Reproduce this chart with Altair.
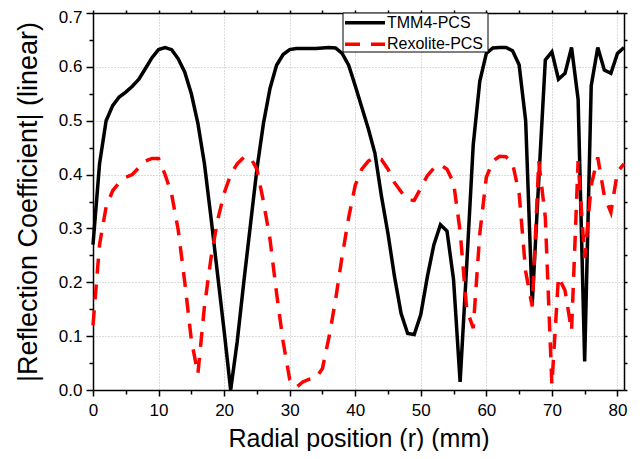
import altair as alt
import pandas as pd

# ---------------- data ----------------
R_MM = list(range(0, 82))

TMM4 = [0.27, 0.42, 0.50, 0.528, 0.544, 0.553, 0.564, 0.577, 0.597, 0.617,
        0.632, 0.636, 0.632, 0.615, 0.59, 0.55, 0.495, 0.42, 0.32, 0.215,
        0.11, 0.0, 0.09, 0.20, 0.305, 0.41, 0.495, 0.56, 0.603, 0.623,
        0.632, 0.634, 0.634, 0.634, 0.634, 0.635, 0.636, 0.635, 0.625, 0.603,
        0.565, 0.525, 0.485, 0.44, 0.36, 0.29, 0.21, 0.142, 0.105, 0.103,
        0.14, 0.21, 0.27, 0.307, 0.295, 0.205, 0.015, 0.23, 0.455, 0.573,
        0.625, 0.635, 0.636, 0.636, 0.63, 0.604, 0.50, 0.16, 0.39, 0.613,
        0.628, 0.577, 0.588, 0.636, 0.54, 0.053, 0.565, 0.636, 0.594, 0.588,
        0.625, 0.636]

REXOLITE = [0.12, 0.27, 0.34, 0.37, 0.385, 0.395, 0.40, 0.413, 0.425, 0.43,
            0.43, 0.40, 0.363, 0.297, 0.20, 0.093, 0.03, 0.155, 0.245, 0.315,
            0.365, 0.40, 0.42, 0.432, 0.432, 0.41, 0.35, 0.28, 0.18, 0.09,
            0.02, 0.005, 0.015, 0.02, 0.022, 0.04, 0.098, 0.167, 0.248, 0.32,
            0.38, 0.41, 0.425, 0.432, 0.428, 0.41, 0.385, 0.368, 0.353, 0.352,
            0.375, 0.398, 0.412, 0.418, 0.41, 0.385, 0.295, 0.15, 0.115, 0.29,
            0.395, 0.425, 0.434, 0.433, 0.421, 0.365, 0.22, 0.155, 0.425, 0.32,
            0.01, 0.21, 0.185, 0.11, 0.425, 0.245, 0.38, 0.432, 0.36, 0.33,
            0.405, 0.42]

SERIES = ["TMM4-PCS", "Rexolite-PCS"]
X_TICKS = list(range(0, 81, 5))
Y_TICKS = [round(i * 0.05, 2) for i in range(15)]
X_LABEL = "Radial position (r) (mm)"
Y_LABEL = "|Reflection Coefficient| (linear)"

df = pd.DataFrame({"r": R_MM, "tmm4": TMM4, "rex": REXOLITE})
one = pd.DataFrame({"k": [0]})

FONT = "Liberation Sans"
x_scale = alt.Scale(domain=[0, 81], nice=False, zero=False)
y_scale = alt.Scale(domain=[0, 0.7], nice=False, zero=False)

MAJ_X = "datum.value % 10 === 0"
MAJ_Y = "abs(datum.value * 10 - round(datum.value * 10)) < 0.001"

x_axis = alt.Axis(
    values=X_TICKS, title=X_LABEL, format="d",
    labelExpr=f"{MAJ_X} ? datum.label : ''",
    labelOverlap=False, labelFlush=False,
    tickSize={"condition": {"test": MAJ_X, "value": 6}, "value": 4},
    grid=True,
    gridOpacity={"condition": {"test": MAJ_X, "value": 1}, "value": 0},
    gridDash=[1, 2], gridColor="#b8b8b8", gridWidth=1,
    labelPadding=6, titlePadding=8,
    labelFontSize=17, titleFontSize=25,
)
y_axis = alt.Axis(
    values=Y_TICKS, title=Y_LABEL, format=".1f",
    labelExpr=f"{MAJ_Y} ? datum.label : ''",
    labelOverlap=False, labelFlush=False,
    labelOffset={"condition": {"test": "datum.value > 0.69", "value": 4}, "value": 0},
    tickSize={"condition": {"test": MAJ_Y, "value": 7}, "value": 4},
    grid=True,
    gridOpacity={"condition": {"test": MAJ_Y, "value": 1}, "value": 0},
    gridDash=[1, 2], gridColor="#b8b8b8", gridWidth=1,
    labelPadding=4, titlePadding=16,
    labelFontSize=17, titleFontSize=27,
)
x_axis_top = alt.Axis(orient="top", values=X_TICKS, title=None, labels=False,
                      grid=False, tickSize=3)
y_axis_right = alt.Axis(orient="right", values=Y_TICKS, title=None, labels=False,
                        grid=False, tickSize=3)

black = alt.Chart(df).mark_line(color="black", strokeWidth=3.5).encode(
    x=alt.X("r:Q", scale=x_scale, axis=x_axis),
    y=alt.Y("tmm4:Q", scale=y_scale, axis=y_axis),
)
red = alt.Chart(df).mark_line(color="#ff0000", strokeWidth=3.5,
                              strokeDash=[15, 11]).encode(
    x=alt.X("r:Q", scale=x_scale, axis=x_axis_top),
    y=alt.Y("rex:Q", scale=y_scale, axis=y_axis_right),
)

# legend box
leg_box = alt.Chart(one).mark_rect(fill="white", stroke="black",
                                   strokeWidth=1).encode(
    x=alt.value(250), x2=alt.value(395), y=alt.value(0), y2=alt.value(39))
leg_l1 = alt.Chart(one).mark_rule(color="black", strokeWidth=3.5).encode(
    x=alt.value(252), x2=alt.value(292), y=alt.value(9.7))
leg_l2 = alt.Chart(one).mark_rule(color="#ff0000", strokeWidth=3.5,
                                  strokeDash=[15, 11]).encode(
    x=alt.value(252), x2=alt.value(292), y=alt.value(31.3))
leg_t1 = alt.Chart(one).mark_text(align="left", baseline="alphabetic",
                                  font=FONT, fontSize=16, color="black").encode(
    x=alt.value(294), y=alt.value(15.3), text=alt.value(SERIES[0]))
leg_t2 = alt.Chart(one).mark_text(align="left", baseline="alphabetic",
                                  font=FONT, fontSize=16, color="black").encode(
    x=alt.value(294), y=alt.value(36.3), text=alt.value(SERIES[1]))

chart = alt.layer(black, red, leg_box, leg_l1, leg_l2, leg_t1, leg_t2).resolve_scale(
    x="independent", y="independent"
).properties(
    width=531, height=377,
    autosize=alt.AutoSizeParams(type="none"),
    padding={"left": 85, "top": 5, "right": 12, "bottom": 61},
    background="white",
).configure_view(stroke=None).configure_axis(
    labelFont=FONT, titleFont=FONT, labelColor="black", titleColor="black",
    titleFontWeight="normal", domainColor="black", domainWidth=1.5,
    tickColor="black", tickWidth=1.5,
)

chart.save("out.html", embed_options={"renderer": "svg", "actions": False})
